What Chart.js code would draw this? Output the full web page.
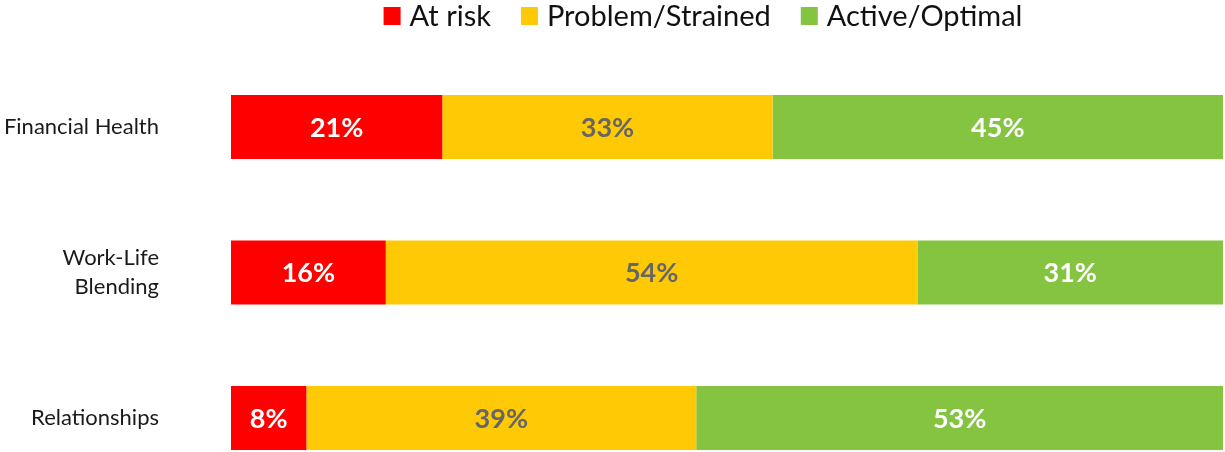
<!DOCTYPE html>
<html>
<head>
<meta charset="utf-8">
<script src="https://cdn.jsdelivr.net/npm/chart.js@4/dist/chart.umd.min.js"></script>
<style>
    html, body { margin: 0; padding: 0; background: #fff; }
    #wrap { width: 1225px; height: 452px; position: relative; }
</style>
</head>
<body>
<div id="wrap"><canvas id="wellbeingChart"></canvas></div>
<script>
// values (shares of 100%)
const categories = ['Financial Health', ['Work-Life', 'Blending'], 'Relationships'];
const seriesNames = ['At risk', 'Problem/Strained', 'Active/Optimal'];
const atRisk = [21.3, 15.6, 7.6];
const strained = [33.3, 53.6, 39.3];
const optimal = [45.4, 30.8, 53.1];

const FONT = 'Lato, "Open Sans", sans-serif';
const colors = ['#FF0000', '#FFC906', '#84C441'];
const labelColors = ['#FFFFFF', '#666666', '#FFFFFF'];

// percent labels in the middle of each segment
const barLabels = {
    id: 'barLabels',
    afterDatasetsDraw(chart) {
        const ctx = chart.ctx;
        ctx.save();
        ctx.font = 'bold 27px ' + FONT;
        ctx.textAlign = 'center';
        ctx.textBaseline = 'middle';
        chart.data.datasets.forEach((ds, i) => {
            const meta = chart.getDatasetMeta(i);
            meta.data.forEach((bar, j) => {
                const p = bar.getProps(['x', 'y', 'base'], true);
                ctx.fillStyle = labelColors[i];
                ctx.fillText(Math.round(ds.data[j]) + '%', (p.x + p.base) / 2, p.y + 1);
            });
        });
        ctx.restore();
    }
};

// single-row legend at the top, centred a little right of the page middle
const topLegend = {
    id: 'topLegend',
    afterDraw(chart) {
        const ctx = chart.ctx;
        const box = 17, boxGap = 9, itemGap = 30, centerX = 703, midY = 16;
        ctx.save();
        ctx.font = '29px ' + FONT;
        ctx.textBaseline = 'middle';
        const items = chart.data.datasets.map(ds => ({ text: ds.label, color: ds.backgroundColor, w: ctx.measureText(ds.label).width }));
        const total = items.reduce((s, it) => s + box + boxGap + it.w, 0) + itemGap * (items.length - 1);
        let x = centerX - total / 2;
        items.forEach(it => {
            ctx.fillStyle = it.color;
            ctx.fillRect(x, midY - 9, box, 18);
            x += box + boxGap;
            ctx.fillStyle = '#111';
            ctx.fillText(it.text, x, midY + 1);
            x += it.w + itemGap;
        });
        ctx.restore();
    }
};

const ctx = document.getElementById('wellbeingChart').getContext('2d');
new Chart(ctx, {
    type: 'bar',
    data: {
        labels: categories,
        datasets: [atRisk, strained, optimal].map((vals, i) => ({
            label: seriesNames[i],
            data: vals,
            backgroundColor: colors[i],
            borderWidth: 0,
            categoryPercentage: 0.44,
            barPercentage: 1,
            clip: false
        }))
    },
    options: {
        indexAxis: 'y',
        responsive: true,
        maintainAspectRatio: false,
        animation: false,
        layout: { padding: { top: 127, bottom: 34, left: 0, right: 2 } },
        plugins: {
            legend: { display: false },
            tooltip: { enabled: false }
        },
        scales: {
            x: { stacked: true, min: 0, max: 100, display: false },
            y: {
                stacked: true,
                offset: false,
                grid: { display: false, drawTicks: false },
                border: { display: false },
                ticks: {
                    color: '#1a1a1a',
                    font: { family: FONT, size: 22, lineHeight: 1.32 },
                    crossAlign: 'near',
                    padding: 72
                },
                afterFit(scale) {
                    scale.width = 231;
                    // tick padding would otherwise push the plot area in
                    scale.paddingTop = 0;
                    scale.paddingBottom = 0;
                }
            }
        }
    },
    plugins: [barLabels, topLegend]
});
</script>
</body>
</html>
